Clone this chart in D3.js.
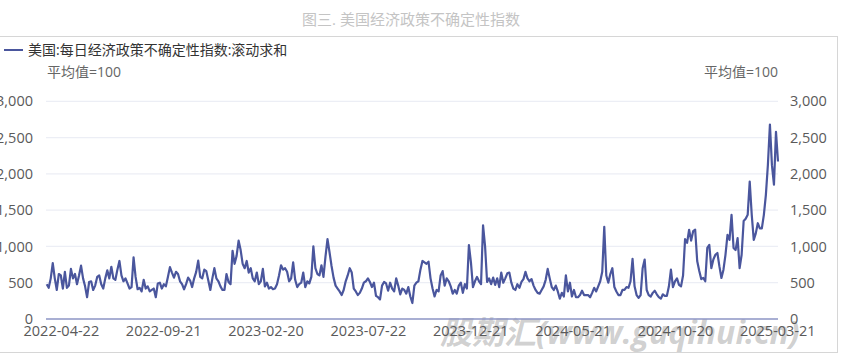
<!DOCTYPE html>
<html>
<head>
<meta charset="utf-8">
<script src="https://cdn.jsdelivr.net/npm/d3@7"></script>
<style>
  body { margin: 0; background: #fff; }
  svg { display: block; }
  text { font-family: "Open Sans", "Noto Sans CJK SC", sans-serif; }
</style>
</head>
<body>
<div id="chart"></div>
<script>
// chart text
var title = "图三. 美国经济政策不确定性指数";
var seriesName = "美国:每日经济政策不确定性指数:滚动求和";
var unitLabel = "平均值=100";
var watermark = "股期汇(www.guqihui.cn)";

// x axis labels
var xTicks = ["2022-04-22", "2022-09-21", "2023-02-20", "2023-07-22",
    "2023-12-21", "2024-05-21", "2024-10-20", "2025-03-21"];
var yTicks = [0, 500, 1000, 1500, 2000, 2500, 3000];

// one reading every 3 days from the start date
var startDate = "2022-04-01";
var stepDays = 3;
var values = [
    480,430,560,770,560,400,620,600,420,650,430,460,690,560,620,480,600,735,560,450,
    300,510,520,400,460,580,600,480,420,560,670,560,720,560,540,680,800,600,520,560,
    490,420,440,850,580,410,430,380,540,420,450,380,
    400,420,300,490,500,420,480,450,580,715,640,570,650,620,520,480,410,480,570,530,
    440,560,650,805,580,560,680,660,530,400,560,700,560,520,450,400,400,620,510,480,
    940,760,870,1080,950,760,700,800,640,700,560,520,
    640,480,520,690,450,500,420,440,410,420,480,600,740,680,700,650,520,560,780,540,
    440,480,500,640,440,520,490,580,1000,700,620,600,740,580,860,1100,920,730,570,460,
    420,380,330,400,520,600,700,640,420,380,330,
    360,420,500,520,560,510,440,500,320,300,270,460,510,490,390,500,420,380,560,460,
    340,420,400,350,440,310,220,460,500,520,680,800,780,760,790,560,420,310,400,380,
    600,660,460,560,520,450,350,400,350,460,500,
    360,480,420,1020,780,440,520,580,520,480,1290,1000,510,560,480,570,470,560,440,640,
    500,560,630,640,500,420,400,480,430,510,550,650,560,520,550,460,400,360,350,400,
    450,540,690,560,440,400,460,380,280,360,310,600,
    380,500,310,400,300,300,330,390,330,330,330,300,360,430,380,450,520,650,1270,600,
    500,620,700,440,380,330,330,400,400,440,430,520,830,450,330,290,330,700,820,400,
    330,310,360,390,340,300,280,340,320,320,450,680,
    440,520,560,470,450,600,1100,1050,1230,1080,1210,1230,800,665,550,565,520,980,1020,700,
    820,885,910,725,565,680,885,1160,1090,1436,980,950,1115,700,885,1350,1380,1436,1895,1436,
    1090,1180,1320,1250,1250,1436,1710,2125,2680,2120,1850,2580,2170
];

var width = 841;
var height = 357;
var parse = d3.timeParse("%Y-%m-%d");
var t0 = parse(startDate);

var data = values.map(function(v, i) {
    return { date: d3.timeDay.offset(t0, i * stepDays), value: v };
});

var svg = d3.select("#chart")
    .append("svg")
    .attr("width", width)
    .attr("height", height);

//Frame around the chart
svg.append("rect")
    .attr("x", -2)
    .attr("y", 36.5)
    .attr("width", 839.5)
    .attr("height", 316)
    .attr("fill", "none")
    .attr("stroke", "#d6d6d6");

//Title
svg.append("text")
    .attr("x", 411)
    .attr("y", 25)
    .attr("text-anchor", "middle")
    .style("font-size", "15px")
    .style("fill", "#c4c4c4")
    .text(title);

//Watermark sits behind the axis text
svg.append("text")
    .attr("x", 440)
    .attr("y", 344)
    .style("font-size", "32px")
    .style("font-weight", "bold")
    .style("font-style", "italic")
    .style("fill", "rgba(150,150,150,0.45)")
    .text(watermark);

var x = d3.scaleTime()
    .domain(d3.extent(data, function(d) { return d.date; }))
    .range([46.7, 778]);

var y = d3.scaleLinear()
    .domain([0, 3000])
    .range([319, 101.3]);

//Gridlines
svg.append("g")
    .selectAll("line")
    .data(yTicks.slice(1))
    .enter()
    .append("line")
    .attr("x1", 46)
    .attr("x2", 778)
    .attr("y1", function(d) { return y(d); })
    .attr("y2", function(d) { return y(d); })
    .attr("stroke", "#eceef5")
    .attr("stroke-width", 1.2);

//Left and right value axes
var fmt = d3.format(",");
var yLeft = svg.append("g")
    .attr("transform", "translate(46,0)")
    .call(d3.axisLeft(y).tickValues(yTicks).tickFormat(fmt).tickSize(0).tickPadding(13));
var yRight = svg.append("g")
    .attr("transform", "translate(778,0)")
    .call(d3.axisRight(y).tickValues(yTicks).tickFormat(fmt).tickSize(0).tickPadding(12));
[yLeft, yRight].forEach(function(g) {
    g.select(".domain").remove();
    g.selectAll("text")
        .style("font-size", "14.5px")
        .style("fill", "#5a5a5a");
});

//Category axis along the bottom
var xAxis = svg.append("g")
    .attr("transform", "translate(0,319)")
    .call(d3.axisBottom(x)
        .tickValues(xTicks.map(parse))
        .tickFormat(d3.timeFormat("%Y-%m-%d"))
        .tickSize(0)
        .tickPadding(7));
xAxis.select(".domain").remove();
xAxis.selectAll("text")
    .style("font-size", "14.5px")
    .style("fill", "#5a5a5a");

svg.append("line")
    .attr("x1", 46)
    .attr("x2", 778)
    .attr("y1", 319)
    .attr("y2", 319)
    .attr("stroke", "#8d95c4")
    .attr("stroke-width", 1.5);

//Series line
var line = d3.line()
    .x(function(d) { return x(d.date); })
    .y(function(d) { return y(d.value); });

svg.append("path")
    .datum(data)
    .attr("d", line)
    .attr("fill", "none")
    .attr("stroke", "#4a569d")
    .attr("stroke-width", 2.2)
    .attr("stroke-linejoin", "round");

//Legend
svg.append("line")
    .attr("x1", 4)
    .attr("x2", 23)
    .attr("y1", 50)
    .attr("y2", 50)
    .attr("stroke", "#4a569d")
    .attr("stroke-width", 2);
svg.append("text")
    .attr("x", 28)
    .attr("y", 55)
    .style("font-size", "14px")
    .style("fill", "#333")
    .text(seriesName);

//Unit notes
svg.append("text")
    .attr("x", 47)
    .attr("y", 77)
    .style("font-size", "14px")
    .style("fill", "#666")
    .text(unitLabel);
svg.append("text")
    .attr("x", 778)
    .attr("y", 77)
    .attr("text-anchor", "end")
    .style("font-size", "14px")
    .style("fill", "#666")
    .text(unitLabel);
</script>
</body>
</html>
